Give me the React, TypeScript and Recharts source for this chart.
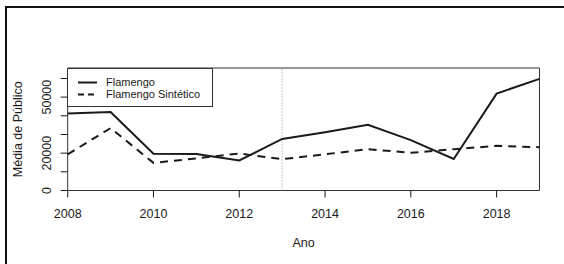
import React from 'react';
import { LineChart, Line, XAxis, YAxis, ReferenceLine, ReferenceArea, Legend } from 'recharts';

// values
const years = [2008, 2009, 2010, 2011, 2012, 2013, 2014, 2015, 2016, 2017, 2018, 2019];
const flamengo = [41300, 42000, 19700, 19600, 16100, 27600, 31200, 35200, 27000, 16900, 51900, 59800];
const flamengoSintetico = [19400, 33400, 14800, 17200, 19800, 16800, 19400, 22100, 20200, 22100, 23900, 23200];

const xTicks = [2008, 2010, 2012, 2014, 2016, 2018];
const yTicks = [0, 10000, 20000, 30000, 40000, 50000, 60000];
const yLabeled = [0, 20000, 50000]; // R drops the overlapping labels
const yMax = 65600;
const treatmentYear = 2013;

const data = years.map((year, i) => ({
  year,
  flamengo: flamengo[i],
  sintetico: flamengoSintetico[i],
}));

const font = '"Liberation Sans", Arial, sans-serif';
const ink = '#1a1a1a';

const YTick = (props: any) => {
  const { x, y, payload } = props;
  if (!yLabeled.includes(payload.value)) return <g />;
  return (
    <text
      x={x}
      y={y}
      dy="0.35em"
      transform={`rotate(-90, ${x}, ${y})`}
      textAnchor="middle"
      fontSize={12.5}
      fontFamily={font}
      fill={ink}
    >
      {payload.value}
    </text>
  );
};

const LegendBox = () => (
  <div
    style={{
      width: 146,
      height: 39,
      border: '1px solid #333',
      boxSizing: 'border-box',
      background: '#fff',
    }}
  >
    <svg width={144} height={37} style={{ display: 'block' }}>
      <line x1={10} x2={29} y1={13.5} y2={13.5} stroke={ink} strokeWidth={2} />
      <line x1={10} x2={29} y1={25.5} y2={25.5} stroke={ink} strokeWidth={2} strokeDasharray="6 4" />
      <text x={38} y={13.5} dy="0.35em" fontSize={11} fontFamily={font} fill={ink}>
        Flamengo
      </text>
      <text x={38} y={25.5} dy="0.35em" fontSize={11} fontFamily={font} fill={ink}>
        Flamengo Sintético
      </text>
    </svg>
  </div>
);

export default function App() {
  return (
    <div style={{ position: 'absolute', left: 0, top: 0, width: 564, height: 264, overflow: 'hidden', background: '#fff' }}>
      {/* outer frame, only top and left edges visible */}
      <div
        style={{
          position: 'absolute',
          left: 5,
          top: 6,
          width: 700,
          height: 400,
          borderTop: '2px solid #111',
          borderLeft: '2px solid #111',
        }}
      />
      <LineChart
        width={564}
        height={264}
        data={data}
        margin={{ top: 68, right: 24.5, bottom: 0, left: 0 }}
        style={{ position: 'absolute', left: 0, top: 0 }}
      >
        <XAxis
          dataKey="year"
          type="number"
          domain={[2008, 2019]}
          ticks={xTicks}
          interval={0}
          height={73.5}
          tickSize={7}
          tickMargin={11.4}
          axisLine={false}
          tickLine={{ stroke: ink }}
          tick={{ fontSize: 12.5, fontFamily: font, fill: ink }}
          label={{
            content: (p: any) => {
              const vb = p.viewBox;
              return (
                <text x={vb.x + vb.width / 2} y={242.7} dy="0.35em" textAnchor="middle" fontSize={12.5} fontFamily={font} fill={ink}>
                  Ano
                </text>
              );
            },
          }}
        />
        <YAxis
          type="number"
          domain={[0, yMax]}
          allowDataOverflow
          ticks={yTicks}
          interval={0}
          width={67.7}
          tickSize={7}
          tickMargin={14}
          axisLine={false}
          tickLine={{ stroke: ink }}
          tick={YTick}
          label={{
            content: (p: any) => {
              const vb = p.viewBox;
              const cx = 18;
              const cy = vb.y + vb.height / 2;
              return (
                <text
                  x={cx}
                  y={cy}
                  dy="0.35em"
                  transform={`rotate(-90, ${cx}, ${cy})`}
                  textAnchor="middle"
                  fontSize={12.5}
                  fontFamily={font}
                  fill={ink}
                >
                  Média de Público
                </text>
              );
            },
          }}
        />
        <ReferenceArea x1={2008} x2={2019} y1={0} y2={yMax} fill="none" stroke="#333" strokeWidth={1} />
        <ReferenceLine x={treatmentYear} stroke="#888" strokeDasharray="1 2" strokeWidth={1} />
        <Line
          type="linear"
          dataKey="flamengo"
          stroke={ink}
          strokeWidth={2}
          dot={false}
          isAnimationActive={false}
        />
        <Line
          type="linear"
          dataKey="sintetico"
          stroke={ink}
          strokeWidth={2}
          strokeDasharray="8 6"
          dot={false}
          isAnimationActive={false}
        />
        <Legend
          layout="vertical"
          align="center"
          verticalAlign="middle"
          wrapperStyle={{ left: 67, top: 68, width: 146, height: 39 }}
          content={() => <LegendBox />}
        />
      </LineChart>
    </div>
  );
}
